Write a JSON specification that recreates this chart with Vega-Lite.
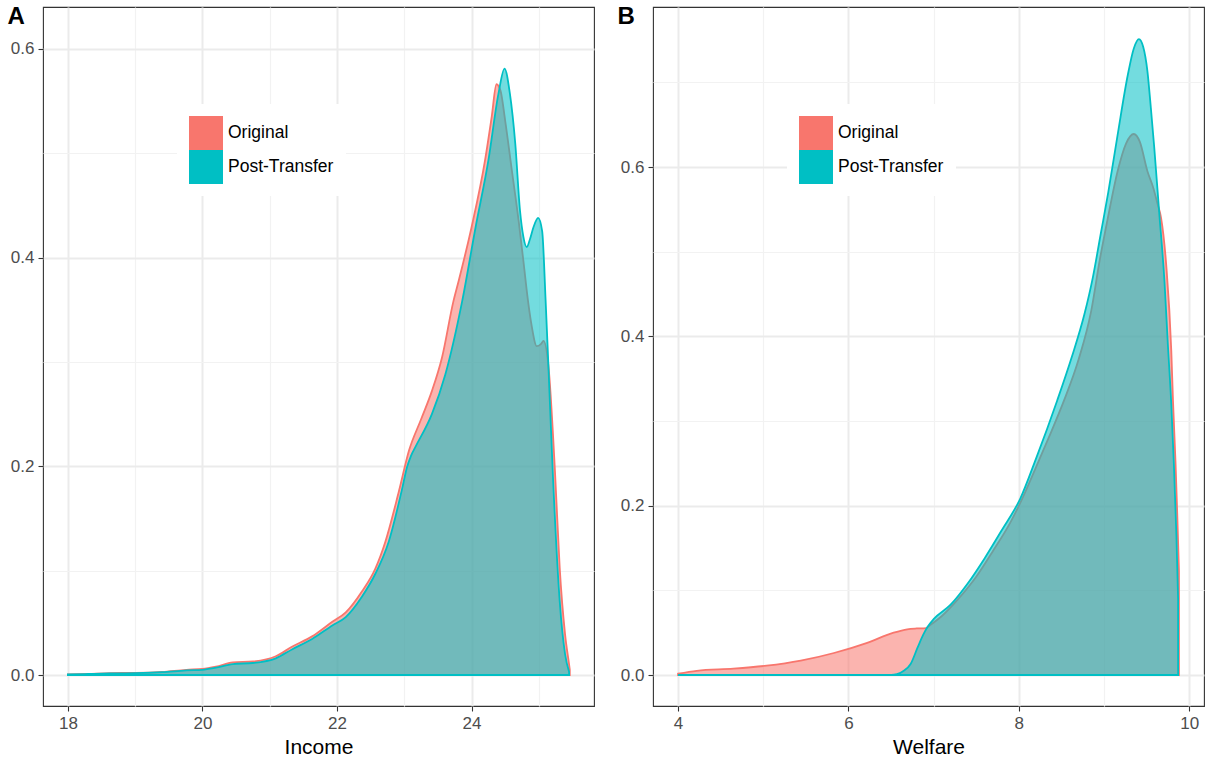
{
  "$schema": "https://vega.github.io/schema/vega-lite/v6.json",
  "padding": {"left": 6, "top": 3, "right": 2, "bottom": 1},
  "background": "white",
  "config": {
    "font": "Liberation Sans",
    "view": {"stroke": "#333333", "strokeWidth": 1.1},
    "axis": {
      "domain": false,
      "labelColor": "#4D4D4D",
      "labelFontSize": 17,
      "tickColor": "#333333",
      "tickSize": 5,
      "tickWidth": 1.1,
      "labelPadding": 4,
      "titleFontSize": 21,
      "titleFontWeight": "normal",
      "titleColor": "black",
      "titlePadding": 5
    },
    "axisY": {
      "titleAngle": 0,
      "titleX": -36,
      "titleY": -3,
      "titleAlign": "left",
      "titleBaseline": "top",
      "titleFontSize": 24,
      "titleFontWeight": "bold",
      "titleColor": "black"
    },
    "legend": {
      "title": null,
      "orient": "none",
      "legendX": 134,
      "legendY": 97,
      "symbolType": "square",
      "symbolSize": 1156,
      "symbolOpacity": 1,
      "symbolStrokeWidth": 0,
      "fillColor": "white",
      "padding": 12,
      "rowPadding": 0,
      "labelFontSize": 17.5,
      "labelColor": "black",
      "labelOffset": 5
    }
  },
  "spacing": 21,
  "resolve": {"scale": {"fill": "independent", "stroke": "independent"}, "legend": {"fill": "independent"}},
  "datasets": {
    "income": [
      {"series": "Original", "income": 18.00, "density": 0.0005},
      {"series": "Original", "income": 18.30, "density": 0.0010},
      {"series": "Original", "income": 18.62, "density": 0.0018},
      {"series": "Original", "income": 19.00, "density": 0.0020},
      {"series": "Original", "income": 19.40, "density": 0.0030},
      {"series": "Original", "income": 19.76, "density": 0.0050},
      {"series": "Original", "income": 20.00, "density": 0.0058},
      {"series": "Original", "income": 20.20, "density": 0.0080},
      {"series": "Original", "income": 20.45, "density": 0.0120},
      {"series": "Original", "income": 20.75, "density": 0.0130},
      {"series": "Original", "income": 21.09, "density": 0.0180},
      {"series": "Original", "income": 21.33, "density": 0.0270},
      {"series": "Original", "income": 21.63, "density": 0.0370},
      {"series": "Original", "income": 21.93, "density": 0.0510},
      {"series": "Original", "income": 22.13, "density": 0.0600},
      {"series": "Original", "income": 22.37, "density": 0.0800},
      {"series": "Original", "income": 22.57, "density": 0.1020},
      {"series": "Original", "income": 22.72, "density": 0.1280},
      {"series": "Original", "income": 22.92, "density": 0.1760},
      {"series": "Original", "income": 23.07, "density": 0.2150},
      {"series": "Original", "income": 23.25, "density": 0.2450},
      {"series": "Original", "income": 23.41, "density": 0.2720},
      {"series": "Original", "income": 23.56, "density": 0.3040},
      {"series": "Original", "income": 23.73, "density": 0.3580},
      {"series": "Original", "income": 23.81, "density": 0.3780},
      {"series": "Original", "income": 24.00, "density": 0.4290},
      {"series": "Original", "income": 24.20, "density": 0.4930},
      {"series": "Original", "income": 24.30, "density": 0.5350},
      {"series": "Original", "income": 24.37, "density": 0.5660},
      {"series": "Original", "income": 24.43, "density": 0.5600},
      {"series": "Original", "income": 24.50, "density": 0.5310},
      {"series": "Original", "income": 24.60, "density": 0.4830},
      {"series": "Original", "income": 24.70, "density": 0.4350},
      {"series": "Original", "income": 24.77, "density": 0.3970},
      {"series": "Original", "income": 24.84, "density": 0.3580},
      {"series": "Original", "income": 24.89, "density": 0.3360},
      {"series": "Original", "income": 24.97, "density": 0.3150},
      {"series": "Original", "income": 25.03, "density": 0.3170},
      {"series": "Original", "income": 25.07, "density": 0.3200},
      {"series": "Original", "income": 25.14, "density": 0.2980},
      {"series": "Original", "income": 25.24, "density": 0.1950},
      {"series": "Original", "income": 25.31, "density": 0.1030},
      {"series": "Original", "income": 25.39, "density": 0.0390},
      {"series": "Original", "income": 25.45, "density": 0.0100},
      {"series": "Original", "income": 25.46, "density": 0.0050},
      {"series": "Post-Transfer", "income": 18.00, "density": 0.0005},
      {"series": "Post-Transfer", "income": 18.30, "density": 0.0010},
      {"series": "Post-Transfer", "income": 18.62, "density": 0.0015},
      {"series": "Post-Transfer", "income": 19.00, "density": 0.0018},
      {"series": "Post-Transfer", "income": 19.40, "density": 0.0027},
      {"series": "Post-Transfer", "income": 19.76, "density": 0.0045},
      {"series": "Post-Transfer", "income": 20.00, "density": 0.0050},
      {"series": "Post-Transfer", "income": 20.20, "density": 0.0070},
      {"series": "Post-Transfer", "income": 20.45, "density": 0.0105},
      {"series": "Post-Transfer", "income": 20.75, "density": 0.0115},
      {"series": "Post-Transfer", "income": 21.09, "density": 0.0160},
      {"series": "Post-Transfer", "income": 21.33, "density": 0.0245},
      {"series": "Post-Transfer", "income": 21.63, "density": 0.0345},
      {"series": "Post-Transfer", "income": 21.93, "density": 0.0475},
      {"series": "Post-Transfer", "income": 22.13, "density": 0.0555},
      {"series": "Post-Transfer", "income": 22.37, "density": 0.0750},
      {"series": "Post-Transfer", "income": 22.57, "density": 0.0970},
      {"series": "Post-Transfer", "income": 22.77, "density": 0.1280},
      {"series": "Post-Transfer", "income": 22.97, "density": 0.1790},
      {"series": "Post-Transfer", "income": 23.04, "density": 0.1990},
      {"series": "Post-Transfer", "income": 23.10, "density": 0.2100},
      {"series": "Post-Transfer", "income": 23.17, "density": 0.2190},
      {"series": "Post-Transfer", "income": 23.41, "density": 0.2500},
      {"series": "Post-Transfer", "income": 23.61, "density": 0.2880},
      {"series": "Post-Transfer", "income": 23.86, "density": 0.3580},
      {"series": "Post-Transfer", "income": 24.06, "density": 0.4290},
      {"series": "Post-Transfer", "income": 24.25, "density": 0.4930},
      {"series": "Post-Transfer", "income": 24.40, "density": 0.5570},
      {"series": "Post-Transfer", "income": 24.49, "density": 0.5810},
      {"series": "Post-Transfer", "income": 24.57, "density": 0.5570},
      {"series": "Post-Transfer", "income": 24.65, "density": 0.5090},
      {"series": "Post-Transfer", "income": 24.72, "density": 0.4450},
      {"series": "Post-Transfer", "income": 24.77, "density": 0.4200},
      {"series": "Post-Transfer", "income": 24.82, "density": 0.4100},
      {"series": "Post-Transfer", "income": 24.87, "density": 0.4180},
      {"series": "Post-Transfer", "income": 24.92, "density": 0.4290},
      {"series": "Post-Transfer", "income": 24.99, "density": 0.4380},
      {"series": "Post-Transfer", "income": 25.05, "density": 0.4250},
      {"series": "Post-Transfer", "income": 25.10, "density": 0.3600},
      {"series": "Post-Transfer", "income": 25.14, "density": 0.3000},
      {"series": "Post-Transfer", "income": 25.21, "density": 0.1900},
      {"series": "Post-Transfer", "income": 25.31, "density": 0.0710},
      {"series": "Post-Transfer", "income": 25.39, "density": 0.0200},
      {"series": "Post-Transfer", "income": 25.45, "density": 0.0030}
    ],
    "welfare": [
      {"series": "Original", "welfare": 4.00, "density": 0.0016},
      {"series": "Original", "welfare": 4.22, "density": 0.0050},
      {"series": "Original", "welfare": 4.65, "density": 0.0075},
      {"series": "Original", "welfare": 5.04, "density": 0.0110},
      {"series": "Original", "welfare": 5.44, "density": 0.0170},
      {"series": "Original", "welfare": 5.83, "density": 0.0260},
      {"series": "Original", "welfare": 6.22, "density": 0.0380},
      {"series": "Original", "welfare": 6.53, "density": 0.0500},
      {"series": "Original", "welfare": 6.69, "density": 0.0540},
      {"series": "Original", "welfare": 6.80, "density": 0.0550},
      {"series": "Original", "welfare": 6.91, "density": 0.0555},
      {"series": "Original", "welfare": 6.96, "density": 0.0590},
      {"series": "Original", "welfare": 7.10, "density": 0.0700},
      {"series": "Original", "welfare": 7.30, "density": 0.0910},
      {"series": "Original", "welfare": 7.50, "density": 0.1160},
      {"series": "Original", "welfare": 7.70, "density": 0.1470},
      {"series": "Original", "welfare": 7.90, "density": 0.1800},
      {"series": "Original", "welfare": 8.02, "density": 0.2040},
      {"series": "Original", "welfare": 8.20, "density": 0.2450},
      {"series": "Original", "welfare": 8.35, "density": 0.2800},
      {"series": "Original", "welfare": 8.53, "density": 0.3240},
      {"series": "Original", "welfare": 8.70, "density": 0.3720},
      {"series": "Original", "welfare": 8.85, "density": 0.4300},
      {"series": "Original", "welfare": 8.95, "density": 0.4900},
      {"series": "Original", "welfare": 9.04, "density": 0.5370},
      {"series": "Original", "welfare": 9.16, "density": 0.5950},
      {"series": "Original", "welfare": 9.26, "density": 0.6280},
      {"series": "Original", "welfare": 9.35, "density": 0.6390},
      {"series": "Original", "welfare": 9.42, "density": 0.6300},
      {"series": "Original", "welfare": 9.51, "density": 0.5950},
      {"series": "Original", "welfare": 9.58, "density": 0.5750},
      {"series": "Original", "welfare": 9.63, "density": 0.5560},
      {"series": "Original", "welfare": 9.67, "density": 0.5400},
      {"series": "Original", "welfare": 9.73, "density": 0.4850},
      {"series": "Original", "welfare": 9.79, "density": 0.3830},
      {"series": "Original", "welfare": 9.81, "density": 0.3240},
      {"series": "Original", "welfare": 9.84, "density": 0.2500},
      {"series": "Original", "welfare": 9.86, "density": 0.1900},
      {"series": "Original", "welfare": 9.88, "density": 0.1230},
      {"series": "Post-Transfer", "welfare": 4.00, "density": 0.0},
      {"series": "Post-Transfer", "welfare": 5.00, "density": 0.0},
      {"series": "Post-Transfer", "welfare": 6.50, "density": 0.0},
      {"series": "Post-Transfer", "welfare": 6.57, "density": 0.0010},
      {"series": "Post-Transfer", "welfare": 6.65, "density": 0.0050},
      {"series": "Post-Transfer", "welfare": 6.73, "density": 0.0130},
      {"series": "Post-Transfer", "welfare": 6.81, "density": 0.0320},
      {"series": "Post-Transfer", "welfare": 6.88, "density": 0.0480},
      {"series": "Post-Transfer", "welfare": 6.93, "density": 0.0570},
      {"series": "Post-Transfer", "welfare": 7.00, "density": 0.0660},
      {"series": "Post-Transfer", "welfare": 7.20, "density": 0.0830},
      {"series": "Post-Transfer", "welfare": 7.40, "density": 0.1080},
      {"series": "Post-Transfer", "welfare": 7.60, "density": 0.1380},
      {"series": "Post-Transfer", "welfare": 7.80, "density": 0.1710},
      {"series": "Post-Transfer", "welfare": 8.02, "density": 0.2090},
      {"series": "Post-Transfer", "welfare": 8.20, "density": 0.2550},
      {"series": "Post-Transfer", "welfare": 8.45, "density": 0.3240},
      {"series": "Post-Transfer", "welfare": 8.62, "density": 0.3750},
      {"series": "Post-Transfer", "welfare": 8.77, "density": 0.4260},
      {"series": "Post-Transfer", "welfare": 8.87, "density": 0.4700},
      {"series": "Post-Transfer", "welfare": 8.96, "density": 0.5200},
      {"series": "Post-Transfer", "welfare": 9.05, "density": 0.5700},
      {"series": "Post-Transfer", "welfare": 9.16, "density": 0.6380},
      {"series": "Post-Transfer", "welfare": 9.28, "density": 0.7090},
      {"series": "Post-Transfer", "welfare": 9.35, "density": 0.7400},
      {"series": "Post-Transfer", "welfare": 9.41, "density": 0.7510},
      {"series": "Post-Transfer", "welfare": 9.46, "density": 0.7420},
      {"series": "Post-Transfer", "welfare": 9.51, "density": 0.7130},
      {"series": "Post-Transfer", "welfare": 9.55, "density": 0.6700},
      {"series": "Post-Transfer", "welfare": 9.59, "density": 0.6230},
      {"series": "Post-Transfer", "welfare": 9.65, "density": 0.5440},
      {"series": "Post-Transfer", "welfare": 9.71, "density": 0.4650},
      {"series": "Post-Transfer", "welfare": 9.75, "density": 0.3900},
      {"series": "Post-Transfer", "welfare": 9.79, "density": 0.3200},
      {"series": "Post-Transfer", "welfare": 9.82, "density": 0.2500},
      {"series": "Post-Transfer", "welfare": 9.85, "density": 0.1650},
      {"series": "Post-Transfer", "welfare": 9.87, "density": 0.0900}
    ]
  },
  "hconcat": [
    {
      "width": 551,
      "height": 699,
      "data": {"name": "income"},
      "mark": {"type": "area", "interpolate": "monotone", "fillOpacity": 0.55, "strokeOpacity": 1, "strokeWidth": 1.8},
      "encoding": {
        "x": {
          "field": "income", "type": "quantitative",
          "scale": {"domain": [17.63, 25.82], "nice": false, "zero": false},
          "axis": {
            "title": "Income",
            "values": [18, 19, 20, 21, 22, 23, 24, 25],
            "labelExpr": "datum.value % 2 === 0 ? datum.label : ''",
            "tickOpacity": {"condition": {"test": "datum.value % 2 === 0", "value": 1}, "value": 0},
            "gridWidth": {"condition": {"test": "datum.value % 2 === 0", "value": 2}, "value": 1.2},
            "gridColor": {"condition": {"test": "datum.value % 2 === 0", "value": "#EBEBEB"}, "value": "#F2F2F2"}
          }
        },
        "y": {
          "field": "density", "type": "quantitative",
          "scale": {"domain": [-0.0297, 0.640], "nice": false, "zero": false},
          "axis": {
            "title": "A",
            "values": [0, 0.1, 0.2, 0.3, 0.4, 0.5, 0.6],
            "format": ".1f",
            "labelExpr": "round(datum.value * 10) % 2 === 0 ? datum.label : ''",
            "tickOpacity": {"condition": {"test": "round(datum.value * 10) % 2 === 0", "value": 1}, "value": 0},
            "gridWidth": {"condition": {"test": "round(datum.value * 10) % 2 === 0", "value": 2}, "value": 1.2},
            "gridColor": {"condition": {"test": "round(datum.value * 10) % 2 === 0", "value": "#EBEBEB"}, "value": "#F2F2F2"}
          }
        },
        "y2": {"datum": 0},
        "fill": {"field": "series", "type": "nominal", "scale": {"domain": ["Original", "Post-Transfer"], "range": ["#F8766D", "#00BFC4"]}, "legend": {"title": null}},
        "stroke": {"field": "series", "type": "nominal", "scale": {"domain": ["Original", "Post-Transfer"], "range": ["#F8766D", "#00BFC4"]}, "legend": null}
      }
    },
    {
      "width": 551,
      "height": 699,
      "data": {"name": "welfare"},
      "mark": {"type": "area", "interpolate": "monotone", "fillOpacity": 0.55, "strokeOpacity": 1, "strokeWidth": 1.8},
      "encoding": {
        "x": {
          "field": "welfare", "type": "quantitative",
          "scale": {"domain": [3.706, 10.174], "nice": false, "zero": false},
          "axis": {
            "title": "Welfare",
            "values": [4, 5, 6, 7, 8, 9, 10],
            "labelExpr": "datum.value % 2 === 0 ? datum.label : ''",
            "tickOpacity": {"condition": {"test": "datum.value % 2 === 0", "value": 1}, "value": 0},
            "gridWidth": {"condition": {"test": "datum.value % 2 === 0", "value": 2}, "value": 1.2},
            "gridColor": {"condition": {"test": "datum.value % 2 === 0", "value": "#EBEBEB"}, "value": "#F2F2F2"}
          }
        },
        "y": {
          "field": "density", "type": "quantitative",
          "scale": {"domain": [-0.0366, 0.789], "nice": false, "zero": false},
          "axis": {
            "title": "B",
            "values": [0, 0.1, 0.2, 0.3, 0.4, 0.5, 0.6, 0.7],
            "format": ".1f",
            "labelExpr": "round(datum.value * 10) % 2 === 0 ? datum.label : ''",
            "tickOpacity": {"condition": {"test": "round(datum.value * 10) % 2 === 0", "value": 1}, "value": 0},
            "gridWidth": {"condition": {"test": "round(datum.value * 10) % 2 === 0", "value": 2}, "value": 1.2},
            "gridColor": {"condition": {"test": "round(datum.value * 10) % 2 === 0", "value": "#EBEBEB"}, "value": "#F2F2F2"}
          }
        },
        "y2": {"datum": 0},
        "fill": {"field": "series", "type": "nominal", "scale": {"domain": ["Original", "Post-Transfer"], "range": ["#F8766D", "#00BFC4"]}, "legend": {"title": null}},
        "stroke": {"field": "series", "type": "nominal", "scale": {"domain": ["Original", "Post-Transfer"], "range": ["#F8766D", "#00BFC4"]}, "legend": null}
      }
    }
  ]
}
